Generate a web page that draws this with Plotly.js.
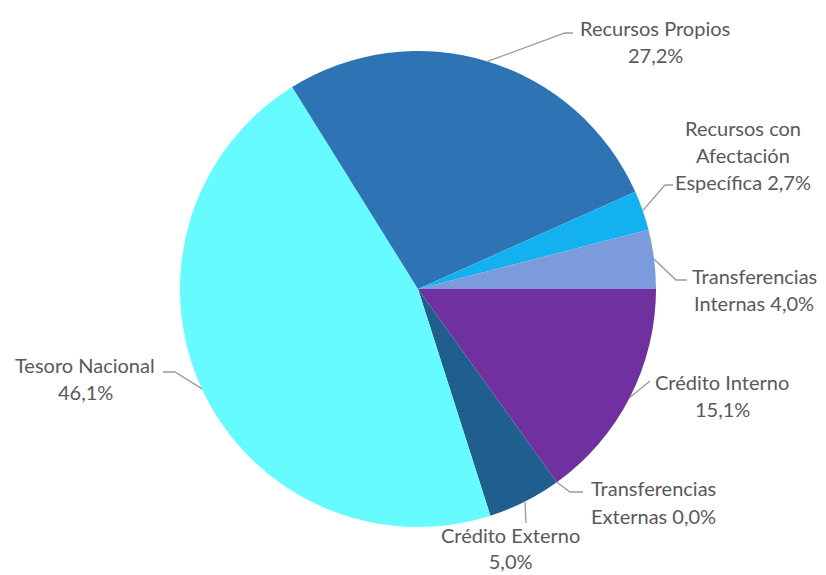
<!DOCTYPE html>
<html><head><meta charset="utf-8">
<script src="https://cdn.plot.ly/plotly-3.0.1.min.js"></script>
<style>html,body{margin:0;padding:0;background:#fff}</style>
</head><body><div id="chart" style="width:826px;height:575px"></div>
<script>
// ---- data ----
const categories = ["Crédito Interno","Transferencias Externas","Crédito Externo","Tesoro Nacional","Recursos Propios","Recursos con Afectación Específica","Transferencias Internas"];
const values = [15.1, 0.0, 5.0, 46.1, 27.2, 2.7, 4.0];
// label text lines; {p} is replaced by the formatted percentage
const labelLines = [
  ["Crédito Interno","{p}"],
  ["Transferencias","Externas {p}"],
  ["Crédito Externo","{p}"],
  ["Tesoro Nacional","{p}"],
  ["Recursos Propios","{p}"],
  ["Recursos con","Afectación","Específica {p}"],
  ["Transferencias","Internas {p}"]
];
const colors = ["#7030A0","#4F81BD","#1F5E8E","#66FBFF","#2E74B5","#14B1F0","#7C9BDC"];

// ---- layout / style ----
const W = 826, H = 575;
const CX = 418, CY = 289, R = 238;
// label placement (pixels): text block centre x, first line y, line height
// (lh 0 = one multi-line text anchored at its bottom edge ty); leader path points after the slice tip
const labelStyle = [
  {tx:722, ty:382, lh:27, path:[[650,381]]},
  {tx:653, ty:488, lh:28, path:[[570,492],[583,492]]},
  {tx:510, ty:575, lh:0,  path:[[526,523]]},
  {tx:85,  ty:365, lh:27, path:[[175,372],[163,372]]},
  {tx:655, ty:28,  lh:27, path:[[565,33],[573,33]]},
  {tx:743, ty:128, lh:27, path:[[665,185],[673,185]]},
  {tx:754, ty:276, lh:27, path:[[676,280],[687,280]]}
];
const font = {family:"Lato, 'Open Sans', sans-serif", size:20, color:"#595959"};

const px = x => x / W, py = y => 1 - y / H;
const total = values.reduce((a,b)=>a+b,0);
const fmt = v => v.toFixed(1).replace('.', ',') + '%';

const annotations = [], shapes = [];
let cum = 0;
values.forEach((v,i)=>{
  const mid = (cum + v/2) / total * 2*Math.PI; // clockwise from 3 o'clock
  cum += v;
  const st = labelStyle[i];
  const tip = [CX + R*Math.cos(mid), CY + R*Math.sin(mid)];
  const pts = [tip].concat(st.path);
  shapes.push({type:'path', xref:'paper', yref:'paper',
    path: pts.map((p,k)=>(k?'L':'M')+px(p[0])+','+py(p[1])).join(' '),
    line:{color:'#9A9A9A', width:1.3}});
  const lines = labelLines[i].map(t=>t.replace('{p}', fmt(v)));
  if (st.lh) {
    lines.forEach((t,k)=>{
      annotations.push({xref:'paper', yref:'paper', x:px(st.tx), y:py(st.ty + k*st.lh),
        xanchor:'center', yanchor:'middle', showarrow:false, text:t, font:font});
    });
  } else {
    annotations.push({xref:'paper', yref:'paper', x:px(st.tx), y:py(st.ty),
      xanchor:'center', yanchor:'bottom', showarrow:false, text:lines.join('<br>'), font:font});
  }
});

const trace = {
  type:'pie', labels:categories, values:values, sort:false, direction:'clockwise', rotation:90,
  marker:{colors:colors, line:{width:0}}, textinfo:'none', hoverinfo:'label+percent',
  domain:{x:[px(CX-R), px(CX+R)], y:[py(CY+R), py(CY-R)]}
};
Plotly.newPlot('chart', [trace], {
  width:W, height:H, margin:{l:0,r:0,t:0,b:0}, showlegend:false,
  paper_bgcolor:'#fff', annotations:annotations, shapes:shapes
}, {displayModeBar:false, staticPlot:true});
</script></body></html>
